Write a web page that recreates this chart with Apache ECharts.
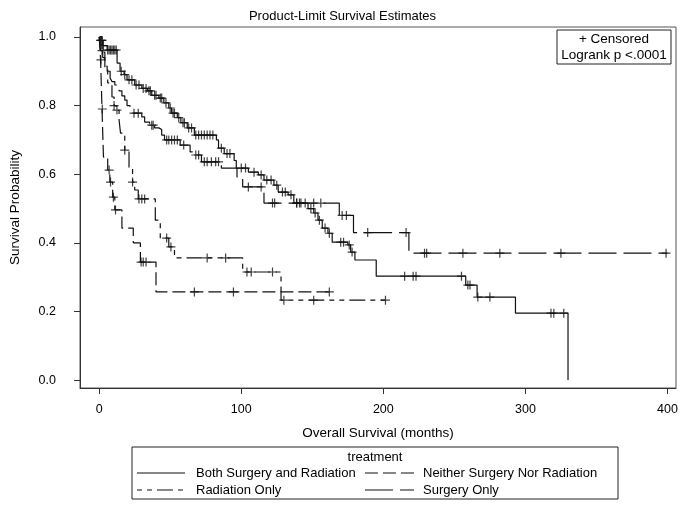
<!DOCTYPE html>
<html><head><meta charset="utf-8">
<script src="https://cdn.jsdelivr.net/npm/echarts@6/dist/echarts.min.js"></script>
<style>html,body{margin:0;padding:0;background:#fff}#c{width:685px;height:506px}</style>
</head><body><div id="c"></div>
<script>
// ---- data ----
const groupNames = ['Both Surgery and Radiation','Neither Surgery Nor Radiation','Radiation Only','Surgery Only'];
const xTicks = [0,100,200,300,400];
const yTicks = [0,0.2,0.4,0.6,0.8,1.0];

const bothT = [0,0.8,2.5,5.6,12.6,14.7,17.5,19.6,25,30,34,37,42,45.5,49,51,55,57.5,62,67,82.5,84,88,95,96.5,105,112,116,123,126,133,137,147,151,154,157,161,164,175,177,180,195,258,266,293,330];
const bothS = [1.0,0.99,0.975,0.962,0.924,0.90,0.89,0.875,0.86,0.85,0.843,0.83,0.822,0.808,0.793,0.778,0.765,0.75,0.735,0.714,0.70,0.676,0.66,0.64,0.618,0.606,0.598,0.583,0.568,0.548,0.54,0.516,0.50,0.487,0.466,0.443,0.428,0.402,0.394,0.373,0.35,0.303,0.277,0.242,0.195,0.0];
const bothCens = [1,1.5,2,3,6,7,8,9,10,11,12,15.5,18,21,23,26,28,31,33,35,36,39,40,43,44,47,50,52,53,56,59,60,63,65,68,70,72,74,76,78,80,86,90,92,100,103,109,114,118,121,125,129,131,135,139,141,149,152,155,159,162,170,172,176,178,215,221,223,255,259.5,261,266.5,275,318,320,327];

const neitT = [0,0.5,1,1.5,2,2.5,3,6,7.5,9.5,11,16,24,29,40,162];
const neitS = [1.0,0.967,0.933,0.86,0.79,0.72,0.65,0.612,0.577,0.533,0.496,0.443,0.40,0.344,0.257,0.257];
const neitCens = [1.2,2.2,7,8,10,11.5,29.5,31,33,67,94.5,162];

const radT = [0,2,4,6,9,10.5,12,14,15,18,21,23.5,25,27.5,39.5,43,49,53,101,128,201.5];
const radS = [1.0,0.955,0.91,0.866,0.825,0.80,0.787,0.758,0.72,0.67,0.62,0.577,0.554,0.528,0.466,0.414,0.388,0.356,0.315,0.233,0.233];
const radCens = [10.5,12.5,18,23.5,28,30,32,47.5,50.5,76,89,104,107,122,130,151,201.5];

const surgT = [0,1,2.5,4,5.6,7.7,9,11,14,16,18,19.6,21.7,23,30,32,35.5,39,42,44,46,57,64,67,72,86,97,101,116,169,179,218,400];
const surgS = [1.0,0.96,0.94,0.915,0.90,0.88,0.87,0.86,0.843,0.828,0.816,0.80,0.793,0.778,0.767,0.752,0.743,0.735,0.73,0.714,0.70,0.685,0.665,0.656,0.636,0.618,0.592,0.563,0.516,0.48,0.43,0.37,0.37];
const surgCens = [2,24.5,27.5,37,38,47.5,49,51,53,55,59.5,68,70,74,76,79,82,84,105,114,122,123.5,139,142,145,151,156,171,174,189,216,229,230.5,256,282,325,399];

// ---- helpers ----
function pairs(T,S){return T.map((t,i)=>[t,S[i]]);}
function survAt(T,S,t){let v=S[0];for(let i=0;i<T.length;i++){if(T[i]<=t)v=S[i];else break;}return v;}
function censPts(T,S,C){return C.map(t=>[t,survAt(T,S,t)]);}

const FONT = 'Arial, "Liberation Sans", sans-serif';
const INK = '#111';
const dashes = ['solid',[13,5],[5,5,5,5,16,5],[28,7]];
const groups = [
  {T:bothT,S:bothS,C:bothCens},
  {T:neitT,S:neitS,C:neitCens},
  {T:radT,S:radS,C:radCens},
  {T:surgT,S:surgS,C:surgCens}
];
const plus = 'path://M0,5L10,5M5,0L5,10';

const series = [];
groups.forEach((g,i)=>{
  series.push({name:groupNames[i],type:'line',step:'end',symbol:'none',data:pairs(g.T,g.S),
    lineStyle:{color:INK,width:1.2,type:dashes[i]},itemStyle:{color:INK},silent:true,animation:false,z:2});
});
groups.forEach((g,i)=>{
  series.push({name:groupNames[i]+' censored',type:'scatter',symbol:plus,symbolSize:9,data:censPts(g.T,g.S,g.C),
    itemStyle:{color:'none',borderColor:INK,borderWidth:1.2},silent:true,animation:false,z:3});
});

// legend drawn as graphic items (two columns, two rows)
const legX = [[137,185,196],[365,414,423]];
const legY = [473,490];
const legendGraphics = [];
groupNames.forEach((n,i)=>{
  const col = i%2, row = Math.floor(i/2);
  const [x1,x2,tx] = legX[col]; const y = legY[row];
  const d = dashes[i];
  legendGraphics.push({type:'line',shape:{x1:x1,y1:y,x2:x2,y2:y},
    style:{stroke:INK,lineWidth:1.2,lineDash:(d==='solid'?null:d)},z:11});
  legendGraphics.push({type:'text',x:tx,y:y,style:{text:n,font:'13px '+FONT,fill:'#000',textVerticalAlign:'middle'},z:11});
});

const chart = echarts.init(document.getElementById('c'),null,{renderer:'canvas'});
chart.setOption({
  animation:false,
  backgroundColor:'#fff',
  title:{text:'Product-Limit Survival Estimates',left:'center',top:5,textStyle:{fontFamily:FONT,fontSize:13,fontWeight:'normal',color:'#000'}},
  grid:{left:78,top:27,right:9,bottom:118,show:true,borderColor:'#555',borderWidth:1},
  xAxis:{type:'value',min:-13.5,max:406,name:'Overall Survival (months)',nameLocation:'middle',nameGap:38,
    nameTextStyle:{fontFamily:FONT,fontSize:13.5,color:'#000'},
    axisLine:{onZero:false,lineStyle:{color:'#333'}},splitLine:{show:false},
    axisTick:{length:6,lineStyle:{color:'#333'},customValues:xTicks},
    axisLabel:{fontFamily:FONT,fontSize:12.5,color:'#000',margin:15,customValues:xTicks}},
  yAxis:{type:'value',min:-0.023,max:1.029,name:'Survival Probability',nameLocation:'middle',nameGap:58,
    nameTextStyle:{fontFamily:FONT,fontSize:13.5,color:'#000'},
    axisLine:{show:true,onZero:false,lineStyle:{color:'#333'}},splitLine:{show:false},
    axisTick:{show:true,length:6,lineStyle:{color:'#333'},customValues:yTicks},
    axisLabel:{fontFamily:FONT,fontSize:12.5,color:'#000',margin:24,customValues:yTicks,formatter:v=>v.toFixed(1)}},
  series:series,
  graphic:[
    {type:'rect',shape:{x:557,y:30,width:114,height:34},style:{fill:'#fff',stroke:'#222',lineWidth:1},z:10},
    {type:'text',x:614,y:39.5,style:{text:'+ Censored',font:'13.5px '+FONT,fill:'#000',textAlign:'center',textVerticalAlign:'middle'},z:11},
    {type:'text',x:614,y:55,style:{text:'Logrank p <.0001',font:'13.5px '+FONT,fill:'#000',textAlign:'center',textVerticalAlign:'middle'},z:11},
    {type:'rect',shape:{x:132,y:447,width:486,height:52},style:{fill:'none',stroke:'#222',lineWidth:1},z:10},
    {type:'text',x:375,y:457,style:{text:'treatment',font:'13px '+FONT,fill:'#000',textAlign:'center',textVerticalAlign:'middle'},z:11}
  ].concat(legendGraphics)
});
</script></body></html>
